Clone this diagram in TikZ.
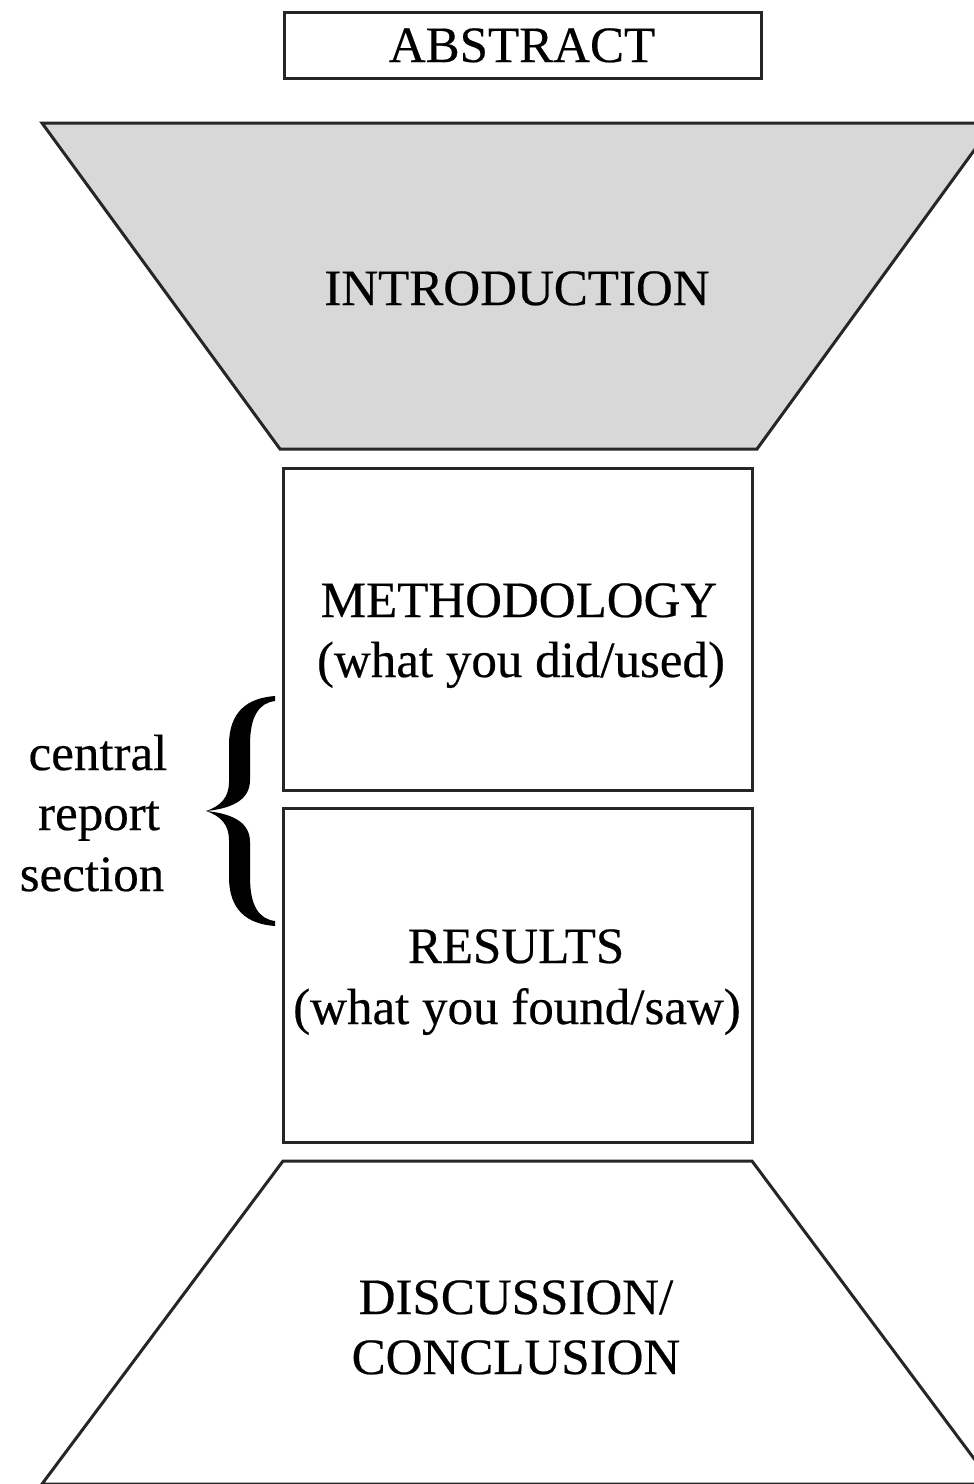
\documentclass[tikz,border=0pt]{standalone}
\usepackage{fontspec}
\setmainfont[FakeBold=0.4]{Liberation Serif}
\definecolor{linec}{HTML}{262626}
\definecolor{introfill}{HTML}{D8D8D8}
\tikzset{
  lbl/.style={font=\fontsize{51}{60}\selectfont, anchor=base, inner sep=0pt, text=black},
  outline/.style={draw=linec, line width=3pt, line join=miter},
  boxnode/.style={outline, rectangle, inner sep=0pt},
}
\begin{document}
\begin{tikzpicture}[x=1pt,y=-1pt]
\useasboundingbox (0,0) rectangle (974,1484);
\clip (0,0) rectangle (974,1484);

% Abstract box
\node[boxnode, minimum width=477pt, minimum height=66pt] (abstractbox) at (522.5,45) {};
\node[lbl] (abstract) at (522,62) {ABSTRACT};

% Introduction funnel
\draw[outline, fill=introfill] (42,123) -- (994,123) -- (757,449) -- (280,449) -- cycle;
\node[lbl] (intro) at (517,305) {INTRODUCTION};

% Methodology box
\node[boxnode, minimum width=469pt, minimum height=322pt] (methbox) at (517.5,629) {};
\node[lbl] (meth1) at (519,617) {METHODOLOGY};
\node[lbl] (meth2) at (521,677) {(what you did/used)};

% Results box
\node[boxnode, minimum width=469pt, minimum height=334pt] (resbox) at (517.5,975) {};
\node[lbl] (res1) at (516,963) {RESULTS};
\node[lbl] (res2) at (517,1024) {(what you found/saw)};

% Discussion funnel
\draw[outline] (283,1161) -- (752,1161) -- (993,1484) -- (42,1484) -- cycle;
\node[lbl] (disc1) at (516,1314) {DISCUSSION/};
\node[lbl] (disc2) at (516,1374) {CONCLUSION};

% Side label
\node[lbl] (central) at (98,770) {central};
\node[lbl] (report) at (99,830) {report};
\node[lbl] (section) at (92,891) {section};

% Brace
\fill[black] (275,696) .. controls (247,698) and (229,712) .. (229,745)
  -- (229,782) .. controls (229,797) and (221,806) .. (206,811)
  .. controls (237,808) and (250,797) .. (250,780)
  -- (250,745) .. controls (250,716) and (259,703) .. (275,701) -- cycle;
\fill[black] (275,926) .. controls (247,924) and (229,910) .. (229,877)
  -- (229,840) .. controls (229,825) and (221,816) .. (206,811)
  .. controls (237,814) and (250,825) .. (250,842)
  -- (250,877) .. controls (250,906) and (259,919) .. (275,921) -- cycle;
\end{tikzpicture}
\end{document}
